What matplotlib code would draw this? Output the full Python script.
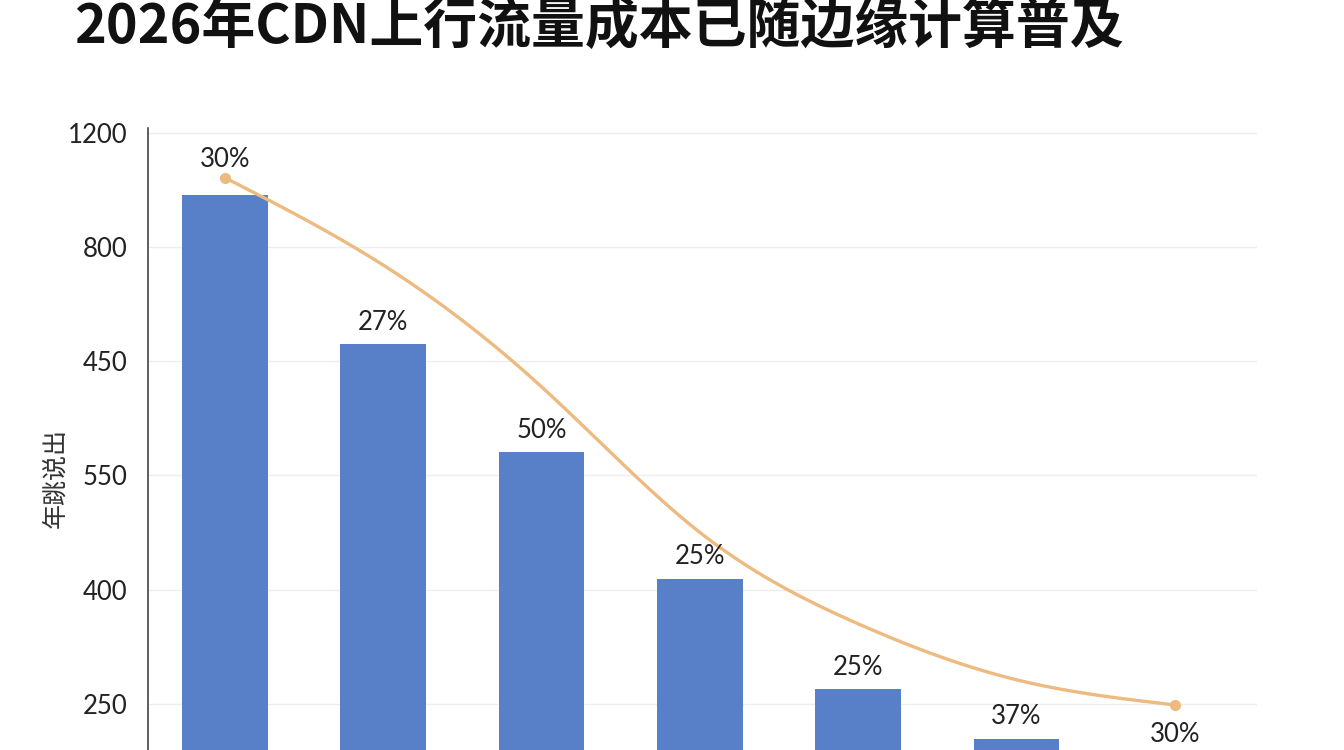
import numpy as np
import matplotlib
matplotlib.use("Agg")
import matplotlib.pyplot as plt

plt.rcParams['font.family'] = ['Noto Sans CJK SC', 'DejaVu Sans']

# ---- data ----
title = "2026年CDN上行流量成本已随边缘计算普及"
ylabel = "年跳说出"
categories = ["1", "2", "3", "4", "5", "6", "7"]
bar_values = [1091, 829, 640, 419, 225, 139, 108]
pct_labels = ["30%", "27%", "50%", "25%", "25%", "37%", "30%"]
line_values = [1121, 968, 755, 500, 340, 242, 198]
ytick_values = [1200, 1000, 800, 600, 400, 200]
ytick_labels = ["1200", "800", "450", "550", "400", "250"]

BAR = "#5880C8"
LINE = "#EDBA80"

W, H = 1344, 750
fig = plt.figure(figsize=(W / 100, H / 100), dpi=100)
fig.patch.set_facecolor("white")

ax = fig.add_axes([148 / W, 1 - 818 / H, (1257 - 148) / W, (818 - 128) / H])
x = np.arange(len(categories))

ax.bar(x, bar_values, width=0.54, color=BAR, zorder=2)

# natural cubic spline through the line values (for drawing the smooth curve)
def natural_spline(xk, yk, xs):
    xk = np.asarray(xk, float); yk = np.asarray(yk, float)
    n = len(xk)
    h = np.diff(xk)
    A = np.zeros((n, n)); b = np.zeros(n)
    A[0, 0] = 1; A[-1, -1] = 1
    for i in range(1, n - 1):
        A[i, i - 1] = h[i - 1]; A[i, i] = 2 * (h[i - 1] + h[i]); A[i, i + 1] = h[i]
        b[i] = 6 * ((yk[i + 1] - yk[i]) / h[i] - (yk[i] - yk[i - 1]) / h[i - 1])
    M = np.linalg.solve(A, b)
    idx = np.clip(np.searchsorted(xk, xs) - 1, 0, n - 2)
    x0 = xk[idx]; x1 = xk[idx + 1]; hh = h[idx]
    return (M[idx] * (x1 - xs)**3 / (6 * hh) + M[idx + 1] * (xs - x0)**3 / (6 * hh)
            + (yk[idx] / hh - M[idx] * hh / 6) * (x1 - xs)
            + (yk[idx + 1] / hh - M[idx + 1] * hh / 6) * (xs - x0))

xs = np.linspace(x[0], x[-1], 400)
ax.plot(xs, natural_spline(x, line_values, xs), color=LINE, lw=2.4, zorder=3,
        solid_capstyle="round")
ax.plot([x[0], x[-1]], [line_values[0], line_values[-1]], "o", color=LINE, ms=7, zorder=4)

for i, (v, lab) in enumerate(zip(bar_values, pct_labels)):
    off = 35 if i == 0 else 22
    ax.annotate(lab, (x[i], v), xytext=(0, off), textcoords="offset pixels",
                ha="center", va="center", fontsize=18.5, color="#222222",
                family=["Lato", "DejaVu Sans"], zorder=5)

ax.set_xlim(-0.486, 6.52)
ax.set_ylim(0, 1208)
ax.set_yticks(ytick_values)
ax.set_yticklabels(ytick_labels, family=["Lato", "DejaVu Sans"], fontsize=18.5, color="#222222")
ax.set_xticks([])
ax.tick_params(axis="y", length=0, pad=15)
ax.grid(axis="y", color="#EEEEEE", lw=1, zorder=0)
for s in ["top", "right", "bottom"]:
    ax.spines[s].set_visible(False)
ax.spines["left"].set_color("#333333")
ax.spines["left"].set_linewidth(1.1)

fig.text(55 / W, 1 - 478 / H, ylabel, rotation=90, ha="center", va="center",
         fontsize=18, color="#333333")
fig.text(74 / W, 1 - 43 / H, title, ha="left", va="baseline",
         fontsize=38.8, fontweight="heavy", color="#111111")

fig.savefig("out.png", dpi=100, facecolor="white")
